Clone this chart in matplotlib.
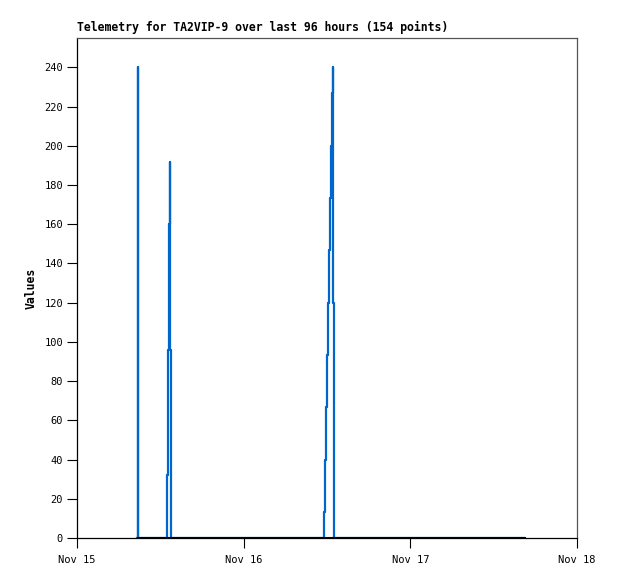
import matplotlib
matplotlib.use('Agg')
import matplotlib.pyplot as plt
from datetime import datetime, timedelta
import matplotlib.dates as mdates

# telemetry samples, hours after Nov 15 00:00
start = datetime(2023, 11, 15)
hours = [8.60, 8.72, 8.76,
         12.92, 13.10, 13.20, 13.36, 13.42, 13.54,
         35.52, 35.67, 35.86, 36.00, 36.14, 36.33, 36.48, 36.58, 36.68, 36.82, 36.88, 37.01,
         64.37]
values = [0, 240, 0,
          32, 96, 160, 192, 96, 0,
          13.3, 40, 66.7, 93.3, 120, 146.7, 173.3, 200, 226.7, 240, 120, 0,
          0]
zero_span = [8.76, 64.37]  # flat channel drawn in black

tick_labels = ['Nov 15', 'Nov 16', 'Nov 17', 'Nov 18']
title = 'Telemetry for TA2VIP-9 over last 96 hours (154 points)'

times = [start + timedelta(hours=h) for h in hours]
ztimes = [start + timedelta(hours=h) for h in zero_span]
ticks = [start + timedelta(days=d) for d in range(4)]

mono = 'DejaVu Sans Mono'
fig = plt.figure(figsize=(6.18, 5.79), dpi=100)
ax = fig.add_axes([77/618, 1 - 538/579, 500/618, 500/579])

ax.step(times, values, where='post', color='#0066cc', lw=1.6, zorder=3)
ax.plot(ztimes, [0, 0], color='black', lw=2.2, zorder=4)

ax.set_xlim(ticks[0], ticks[-1])
ax.set_ylim(0, 255)
ax.set_xticks(ticks)
ax.set_xticklabels(tick_labels, family=mono, fontsize=7.5)
ax.set_yticks(range(0, 241, 20))
ax.set_yticklabels([str(v) for v in range(0, 241, 20)], family=mono, fontsize=7.5)
ax.tick_params(axis='both', length=7, width=0.8, pad=3)
ax.tick_params(axis='x', pad=5)

for s in ['left', 'bottom']:
    ax.spines[s].set_color('black')
    ax.spines[s].set_linewidth(0.9)
for s in ['top', 'right']:
    ax.spines[s].set_color('#555555')
    ax.spines[s].set_linewidth(0.9)

ax.set_ylabel('Values', family=mono, fontweight='bold', fontsize=8.3, labelpad=5)
fig.text(77/618, 1 - 31/579, title, family=mono, fontweight='bold', fontsize=8.3,
         ha='left', va='baseline')

fig.savefig('out.png', dpi=100)
